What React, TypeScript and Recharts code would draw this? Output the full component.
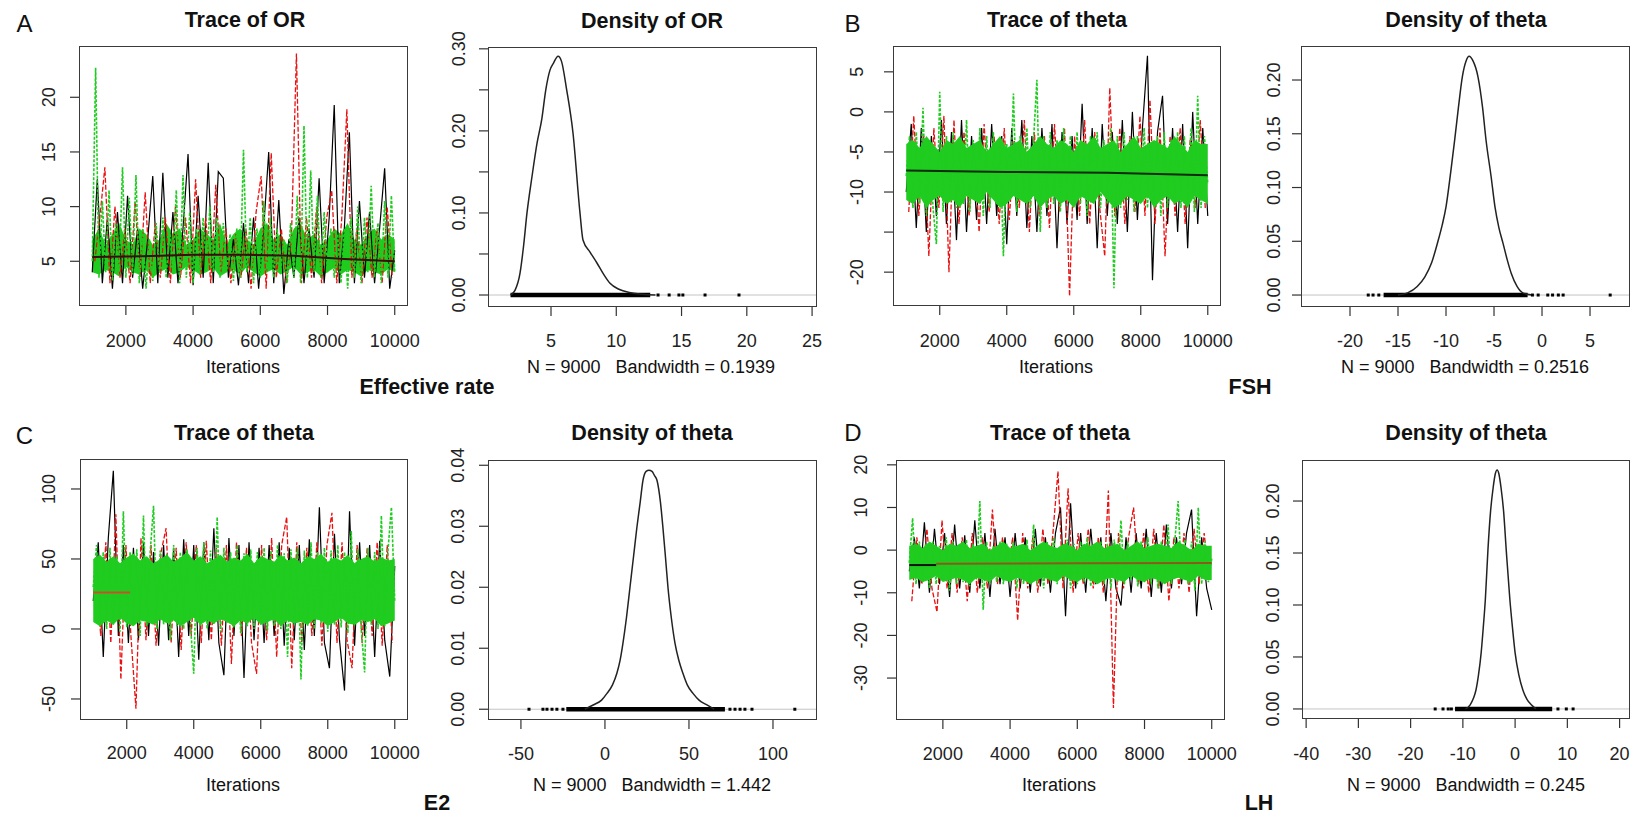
import React from "react";
import { ComposedChart, Line, Area, Scatter, XAxis, YAxis, ReferenceLine } from "recharts";

const FONT = '"Liberation Sans", Arial, Helvetica, sans-serif';
const GREEN = "#1fcc1f";
const RED = "#e81010";

// iteration positions of the thinned chains (x categories)
const itersBlack = Array.from({ length: 61 }, (_, i) => 1000 + 150 * i);
const itersRed = Array.from({ length: 60 }, (_, i) => 1075 + 150 * i);
const itersGreen = Array.from({ length: 91 }, (_, i) => 1000 + 100 * i);
const itersCore = Array.from({ length: 46 }, (_, i) => 1000 + 200 * i);
const iterTicks = [2000, 4000, 6000, 8000, 10000];

// A - OR trace
const orBlack = [4, 12.5, 3, 9, 2.5, 9.5, 3, 11, 3.5, 8, 2.5, 7, 12.8, 3, 13.1, 3.5, 9.5, 3, 8, 14.8, 2.8, 11, 3.5, 14, 3, 13.2, 12.6, 3.5, 7, 2.8, 8.5, 3, 9, 2.5, 8, 15, 3, 10.6, 2, 7, 3.5, 9, 3, 8, 3.5, 12.6, 3, 9, 19.3, 3, 8, 16.8, 3, 10.5, 3.5, 9.5, 3, 8, 13.5, 2.5, 6];
const orRed = [5, 9, 13.6, 3, 10, 3.5, 8, 3, 10.5, 3.5, 11.3, 3, 8.5, 3.5, 9, 3, 10, 3.5, 9, 3, 12.5, 3.5, 9, 3, 12, 4, 8, 3, 7.5, 3.5, 8, 2.5, 9.5, 12.8, 2.5, 14.9, 3.5, 8, 3, 7, 24, 3, 9, 3.5, 10, 3, 9, 11.5, 3, 9, 18.9, 3.5, 8, 3, 9, 3.5, 8, 3, 10, 3.5];
const orGreen = [5, 22.7, 3.5, 10.5, 4, 11.5, 3.2, 8.5, 4, 13.6, 3.5, 10.8, 3.8, 12.9, 3, 8, 2.5, 7, 3.2, 8.5, 4, 9, 3.5, 8, 4, 11.5, 3, 12.9, 3.5, 9.5, 3, 8, 3.8, 9, 4.5, 10, 4, 9, 3.5, 8.5, 4, 7.5, 3.2, 8, 3.5, 15.2, 4, 9, 3, 8, 3.5, 10.5, 4, 9, 3.5, 8, 4, 7, 3, 8.5, 3.5, 11, 3, 17.4, 3.5, 13.3, 4, 11, 3.5, 9.5, 4, 8, 3.5, 7.5, 3, 8, 2.5, 9, 3.5, 10, 3, 9, 4, 11.9, 3.5, 8.5, 3, 10.5, 3.5, 11, 4];
const orCoreLo = [4, 3.8, 4.2, 4, 3.6, 4.5, 4, 3.8, 4.2, 3.5, 4, 4.3, 3.8, 4, 4.5, 4.2, 3.8, 4, 4.4, 3.6, 4, 4.2, 3.8, 4.5, 4, 3.6, 4, 4.3, 3.8, 4.1, 4.5, 3.8, 4, 4.2, 3.6, 4, 4.4, 3.8, 4.2, 4, 3.6, 4.2, 4, 3.8, 4.3, 4];
const orCoreHi = [7, 8, 6.5, 7.5, 8.5, 7, 6.5, 8, 7.5, 6.5, 7, 8.5, 7.5, 8, 6.5, 7, 8, 7.5, 7, 8.5, 6.5, 7.5, 8, 7, 6.5, 8, 8.5, 7, 7.5, 6.5, 8, 8.5, 7, 7.5, 6.5, 7, 8, 7.5, 8.5, 7, 6.5, 7.5, 8, 7, 7.5, 7];
const orMeanIters = [1000, 2500, 4000, 5500, 7000, 8500, 10000];
const orMean = [5.4, 5.45, 5.6, 5.6, 5.5, 5.2, 5.0];

// A - OR density
const orDensX = [1.9, 2.25, 2.63, 2.9, 3.16, 3.55, 3.93, 4.3, 4.6, 4.92, 5.2, 5.54, 5.8, 6.2, 6.68, 7.22, 7.45, 8.0, 8.52, 9.0, 9.5, 10.2, 11, 12, 13];
const orDensY = [0, 0.006, 0.027, 0.06, 0.1, 0.145, 0.185, 0.215, 0.25, 0.274, 0.283, 0.291, 0.285, 0.25, 0.198, 0.1, 0.067, 0.052, 0.039, 0.026, 0.0146, 0.007, 0.003, 0.001, 0];
const orRugBand = [1.9, 12.6];
const orRugDots = [13.2, 14.05, 14.8, 15.1, 16.8, 19.4];

// B - FSH trace
const fshBlack = [-10, -1.5, -14.5, -2, -15, -3, -13, -1, -14, -2.5, -16, -1, -15, -3, -13.5, -2, -14, -1.5, -13, -3, -16.5, -2, -13, -1, -14.5, -3, -15, -2, -13, -1.5, -17, -2.5, -14, -3, -13.5, 1, -14, -2, -17, -1.5, -13, -2.5, -14, -1, -15, 0, -13.5, -2, 7, -21, -2.5, 2, -14, -2, -15, -1.5, -17, 0, -14, -2, -13];
const fshRed = [-12.5, -0.5, -13, -3, -18, -2, -12, -0.5, -20, -1, -14, -2.5, -13, -4, -15, -1.5, -12.5, -3, -14, -2, -13.5, -3.5, -12, -1, -15, -2.5, -13, -3, -14.5, -1.5, -12.5, -2, -23, -3, -13, -1, -14, -2.5, -12, -18, 3, -13, -2, -14, -3, -12.5, -0.5, -13, 1.5, -14, -2, -18, -3, -13, -2, -14, -3.5, -12, -1, -12];
const fshGreen = [-8, -3, -12, -2.5, -11.5, 0.5, -13, -3.5, -12, -16.5, 2.5, -12.5, -3, -11, -2.5, -12, -4, -11.5, -1, -12.5, -3.5, -11, -2, -13, -3, -12, -2.5, -11.5, -3.5, -18, -4, -11, 2.3, -12.5, -3, -11, -2, -12, -3.5, 4, -15, -3, -12, -2.5, -11.5, -3.5, -12.5, -2, -11, -3, -12, -2.5, -11.5, -4, -13, -3, -11, -2.5, -12, -3.5, -11.5, -2, -22, -3, -12, -2.5, -11, -3.5, -12.5, -3, -11, -2, -12, -4, -11.5, -3, -13, -2.5, -12, -3.5, -11, -2.5, -12, -3, -11.5, -2, -12.5, 2, -12, -3, -9];
const fshCoreLo = [-11, -11.5, -10.5, -12, -11, -10.5, -11.5, -11, -12, -10.5, -11, -11.5, -10, -11, -12, -11.5, -10.5, -11, -11.5, -10.5, -12, -11, -10.5, -11.5, -11, -12, -10.5, -11, -11.5, -10, -11, -12, -11.5, -10.5, -11, -11.5, -10.5, -12, -11, -10.5, -11.5, -11, -12, -10.5, -11, -11.5];
const fshCoreHi = [-4, -3.5, -4.5, -3, -4, -5, -3.5, -4, -3, -4.5, -4, -3.5, -5, -4, -3, -4.5, -4, -3.5, -5, -4, -3, -4, -4.5, -3.5, -4, -5, -3.5, -4, -3, -4.5, -4, -3.5, -5, -4, -3, -4.5, -4, -3.5, -4, -4.5, -3, -4, -5, -3.5, -4, -4];
const fshMeanIters = [1000, 4000, 7000, 10000];
const fshMean = [-7.3, -7.5, -7.6, -7.9];

// B - FSH density
const fshDensX = [-15, -14, -13, -12.2, -11.5, -10.9, -10.4, -10, -9.5, -9.1, -8.7, -8.3, -7.9, -7.6, -7.2, -6.67, -6.2, -5.83, -5.3, -4.9, -4.5, -4.06, -3.6, -3.2, -2.6, -2, -1];
const fshDensY = [0, 0.002, 0.008, 0.017, 0.03, 0.048, 0.065, 0.082, 0.115, 0.144, 0.175, 0.203, 0.218, 0.222, 0.218, 0.203, 0.175, 0.144, 0.11, 0.082, 0.063, 0.048, 0.032, 0.02, 0.008, 0.002, 0];
const fshRugBand = [-16.5, -1.5];
const fshRugDots = [-18.1, -17.6, -17, -1.0, -0.4, 0.6, 1.1, 1.7, 2.2, 7.1];

// C - E2 trace
const e2Black = [20, 62, -20, 65, 113, -5, 60, -10, 58, -8, 62, -5, 55, -12, 60, -8, 58, -20, 64, -5, 60, -22, 62, -8, 72, -10, -33, 65, -5, 60, -35, 62, -8, 58, -10, 60, -5, 62, -12, 58, -8, 60, -15, 64, -5, 87, -10, -28, 68, -8, -44, 84, -12, 62, -5, 60, -20, 63, -8, -34, 45];
const e2Red = [40, -5, 62, -10, 82, -36, 60, -5, -57, 65, -8, 60, -12, 55, 72, -10, 58, -15, 62, -5, 60, -10, 63, -8, 58, -12, 60, -25, 62, -5, 58, -10, -32, 60, -8, 65, -20, 60, 80, -28, 62, -10, 58, -5, 62, -12, 60, 83, -10, 62, -8, -28, 60, -10, 58, -5, 62, -12, 60, -10];
const e2Green = [30, 60, 2, 55, 0, 58, 3, 52, -2, 84, 1, 55, 4, 57, -5, 81, 2, 55, 88, 0, 56, 3, 54, -8, 60, 2, 55, 0, 57, 4, -32, 58, 2, 62, 0, 56, 3, 80, -2, 58, 4, 55, 1, 60, -3, 54, 2, 57, 0, 55, 3, 58, -1, 56, 2, 60, 0, 54, -20, 57, 3, 58, -36, 56, 2, 62, 0, 55, 4, 58, -2, 56, 3, 60, 1, 55, -3, 70, 2, 57, 0, -31, 58, 3, 55, 0, 81, 2, 57, 87, 20];
const e2CoreLo = [5, 2, 6, 3, 8, 4, 2, 6, 5, 3, 7, 4, 6, 2, 5, 8, 3, 6, 4, 7, 5, 2, 6, 4, 8, 3, 5, 7, 2, 6, 4, 5, 3, 7, 6, 2, 5, 8, 4, 3, 6, 5, 7, 2, 4, 6];
const e2CoreHi = [50, 53, 48, 52, 47, 51, 54, 49, 52, 47, 50, 53, 48, 51, 55, 49, 52, 47, 50, 53, 48, 51, 49, 54, 47, 52, 50, 48, 53, 49, 51, 47, 52, 50, 54, 48, 51, 49, 53, 47, 50, 52, 48, 51, 49, 50];
const e2MeanIters = [1000, 2100];
const e2Mean = [26, 26];

// C - E2 density
const e2DensX = [-12, -7, -2, 1.2, 4.5, 7.1, 9, 10.7, 12.8, 14.9, 17, 19, 21, 22.6, 24.5, 26.2, 28, 29.5, 31, 33, 34.5, 36, 37.5, 39.5, 41.7, 44, 46.4, 49, 52.4, 56, 60.7, 65];
const e2DensY = [0, 0.0007, 0.0015, 0.0026, 0.004, 0.0059, 0.008, 0.0108, 0.015, 0.02, 0.025, 0.0298, 0.034, 0.0375, 0.039, 0.0392, 0.039, 0.0383, 0.0375, 0.034, 0.0298, 0.025, 0.02, 0.015, 0.0108, 0.008, 0.0059, 0.004, 0.0026, 0.0015, 0.0007, 0];
const e2RugBand = [-23, 71.4];
const e2RugDots = [-45.2, -36.9, -34.5, -31.5, -28.6, -25, 74.4, 77.4, 80.4, 83.3, 87.5, 113];

// D - LH trace
const lhBlack = [-5, 3, -9, 6.5, -10, 5, -8, 4, -11, 6, -9, 3.5, -10, 7, -9, 4, -11, 5, -8, 3, -11, 4, -9, 3, -10, 5, -8.5, 3, -10, 4, 10, -15.5, 11, -9, 4, -10, 5, -8, 3, -12, 4, -9, -13, 3, -10, 4, -9, 5, -11, 4, -10, 6, -9, 3, -8, 4, 9.5, -15.5, 3, -9, -14];
const lhRed = [-12, 3, -8, 5, -9, -14.5, 7, -9, 4, -10, 3, -12, 4, -10, 3, -9, 9.5, -8, 3, -7, 3, -16.5, 4, -9, 3, -10, 5, -8, 4, 18.5, -9, 14.5, -10, 4, -8, 5, -9, 3, -10, 14, -37, 4, -9, 3, 10, -8, 4, -10, 5, -9, 6, -12, 3, -9, 4, -10, 5, -8, 4, -7];
const lhGreen = [-3, 7.5, -8, 2, -7.5, 1.5, -9, 2, -8, 1, -7, 3, -9.5, 2, -8, 1, -7.5, 2.5, -8.5, 1.5, -7, 11.5, -14, 2, -8, 1, -7.5, 2, -8, 1.5, -7, 2, -9, 1, -8, 2.5, -7.5, 6, -8, 1.5, -9, 2, -7.5, 3, -8, 1, -7, 2.5, -9, 1.5, -8, 2, -7.5, 3, -8.5, 1, -7, 2, -8, 1.5, -9, 2.5, -7.5, 7, -8, 2, -7, 1.5, -8.5, 2, -7.5, 3, -8, 1.5, -9, 2, -7.5, 6, -8, 2, 11.5, -7, 2.5, -8, 2, -9.5, 10, -8, 2, -7.5, -2];
const lhCoreLo = [-7, -6.5, -7.5, -7, -6, -7.5, -7, -6.5, -7, -8, -6.5, -7, -7.5, -6, -7, -7.5, -6.5, -7, -8, -7, -6.5, -7, -7.5, -6, -7, -7.5, -6.5, -7, -8, -7, -6.5, -7, -7.5, -6, -7, -7.5, -6.5, -7, -8, -7, -6.5, -7, -7.5, -6, -7, -7];
const lhCoreHi = [1, 1.5, 0.5, 2, 1, 0, 1.5, 1, 2, 0.5, 1, 1.5, 0, 1, 2, 0.5, 1, 1.5, 0, 1, 2, 1, 0.5, 1.5, 1, 0, 1.5, 1, 2, 0.5, 1, 1.5, 0, 1, 2, 0.5, 1, 1.5, 1, 0.5, 2, 1, 0, 1.5, 1, 1];
const lhMeanBlackIters = [1000, 1800];
const lhMeanBlack = [-3.5, -3.5];
const lhMeanIters = [1800, 6000, 10000];
const lhMean = [-3.2, -3.1, -3.0];

// D - LH density
const lhDensX = [-9.5, -8.6, -8, -7.5, -7, -6.5, -6.1, -5.7, -5.2, -4.7, -4.2, -3.8, -3.44, -3.1, -2.7, -2.2, -1.7, -1.0, -0.5, 0, 0.7, 1.5, 2.3, 3.1, 4];
const lhDensY = [0, 0.004, 0.01, 0.018, 0.033, 0.054, 0.078, 0.105, 0.153, 0.19, 0.213, 0.226, 0.2298, 0.226, 0.213, 0.19, 0.153, 0.105, 0.078, 0.054, 0.033, 0.018, 0.009, 0.004, 0];
const lhRugBand = [-11.5, 7.1];
const lhRugDots = [-15.3, -13.8, -12.8, -12.2, 8.2, 9.8, 11.1];

const toPts = (xs: number[], ys: number[]) => ys.map((y, i) => ({ x: xs[i], y }));
const toRange = (xs: number[], lo: number[], hi: number[]) => lo.map((l, i) => ({ x: xs[i], r: [l, hi[i]] }));

const XTick = ({ x, y, payload }: any) => (
  <text x={x} y={y + 6.5} textAnchor="middle" fontSize={18} fontFamily={FONT} fill="#222">
    {String(payload.value)}
  </text>
);

const YTick = ({ x, y, payload, fmt }: any) => {
  const label = fmt(payload.value);
  if (!label) return <g />;
  return (
    <text x={x} y={y} transform={`rotate(-90 ${x} ${y})`} textAnchor="middle" fontSize={18} fontFamily={FONT} fill="#222">
      {label}
    </text>
  );
};

const PAD_L = 70;
const PAD_T = 30;
const PAD_R = 40;
const PAD_B = 50;

// each layer is its own chart with identical geometry, stacked so that
// later layers paint over earlier ones (chain order: black, red, green)
function Panel({ box, xDomain, yDomain, xTicks, yTicks, yFmt, yGap, xGap, layers }: any) {
  const [x0, y0, x1, y1] = box;
  const w = x1 - x0;
  const h = y1 - y0;
  return (
    <div style={{ position: "absolute", left: x0 - PAD_L, top: y0 - PAD_T, width: w + PAD_L + PAD_R, height: h + PAD_T + PAD_B }}>
      {layers.map((items: React.ReactNode[], li: number) => (
        <div key={li} style={{ position: "absolute", left: 0, top: 0 }}>
          <ComposedChart width={w + PAD_L + PAD_R} height={h + PAD_T + PAD_B} margin={{ top: PAD_T, right: PAD_R, bottom: 0, left: 0 }}>
            <XAxis
              type="number"
              dataKey="x"
              domain={xDomain}
              ticks={xTicks}
              interval={0}
              allowDataOverflow
              height={PAD_B}
              axisLine={false}
              tickSize={10}
              tickMargin={xGap - 10}
              tickLine={li === 0 ? { stroke: "#333", strokeWidth: 1.2 } : false}
              tick={li === 0 ? (p: any) => <XTick {...p} /> : false}
            />
            <YAxis
              type="number"
              domain={yDomain}
              ticks={yTicks}
              interval={0}
              allowDataOverflow
              width={PAD_L}
              axisLine={false}
              tickSize={10}
              tickMargin={yGap - 10}
              tickLine={li === 0 ? { stroke: "#333", strokeWidth: 1.2 } : false}
              tick={li === 0 ? (p: any) => <YTick {...p} fmt={yFmt} /> : false}
            />
            {items}
          </ComposedChart>
        </div>
      ))}
      <div
        style={{
          position: "absolute",
          left: PAD_L - 1,
          top: PAD_T - 1,
          width: w + 2,
          height: h + 2,
          border: "1.5px solid #3a3a3a",
          boxSizing: "border-box",
          pointerEvents: "none",
        }}
      />
    </div>
  );
}

// coreUnder: paint the green core beneath the black/red chains (mixed look of panel A)
function traceLayers(black: number[], red: number[], green: number[], coreLo: number[], coreHi: number[], means: React.ReactNode[], coreUnder = false) {
  const core = (
    <Area key="gc" data={toRange(itersCore, coreLo, coreHi)} dataKey="r" stroke="none" fill={GREEN} fillOpacity={1} dot={false} activeDot={false} isAnimationActive={false} />
  );
  const blackLine = <Line key="k" data={toPts(itersBlack, black)} dataKey="y" stroke="#000" strokeWidth={1.2} dot={false} activeDot={false} isAnimationActive={false} />;
  const redLine = <Line key="r" data={toPts(itersRed, red)} dataKey="y" stroke={RED} strokeWidth={1.3} strokeDasharray="5 2" dot={false} activeDot={false} isAnimationActive={false} />;
  const greenLine = <Line key="g" data={toPts(itersGreen, green)} dataKey="y" stroke={GREEN} strokeWidth={1.6} strokeDasharray="3 1.5" dot={false} activeDot={false} isAnimationActive={false} />;
  return coreUnder
    ? [[core], [blackLine, redLine], [greenLine, ...means]]
    : [[blackLine, redLine], [core], [greenLine, ...means]];
}

function meanLine(key: string, iters: number[], vals: number[], color: string) {
  return <Line key={key} data={toPts(iters, vals)} dataKey="y" stroke={color} strokeWidth={2} dot={false} activeDot={false} isAnimationActive={false} />;
}

const rugDot = (p: any) => <rect x={p.cx - 1.5} y={p.cy - 1.5} width={3} height={3} fill="#000" />;

function densityLayers(xs: number[], ys: number[], band: number[], dots: number[]) {
  return [
    [
      <ReferenceLine key="z" y={0} stroke="#c4c4c4" strokeWidth={1} />,
      <Line key="rb" data={band.map((x) => ({ x, y: 0 }))} dataKey="y" stroke="#000" strokeWidth={4.5} dot={false} activeDot={false} isAnimationActive={false} />,
      <Scatter key="rd" data={dots.map((x) => ({ x, y: 0 }))} dataKey="y" shape={rugDot} isAnimationActive={false} />,
      <Line key="d" data={toPts(xs, ys)} dataKey="y" type="monotone" stroke="#222" strokeWidth={1.5} dot={false} activeDot={false} isAnimationActive={false} />,
    ],
  ];
}

function Label({ cx, cy, size, bold, children }: any) {
  return (
    <div
      style={{
        position: "absolute",
        left: cx,
        top: cy - 0.49 * size,
        transform: "translateX(-50%)",
        fontSize: size,
        lineHeight: `${size}px`,
        fontWeight: bold ? 700 : 400,
        whiteSpace: "pre",
        fontFamily: FONT,
        color: "#111",
      }}
    >
      {children}
    </div>
  );
}

const intFmt = (v: number) => String(v);
const fix2 = (v: number) => v.toFixed(2);

export default function App() {
  return (
    <div style={{ position: "relative", width: 1638, height: 817, background: "#fff", overflow: "hidden" }}>
      <style>{"body{margin:0}"}</style>

      {/* A */}
      <Panel box={[80, 47, 407, 305]} xDomain={[635, 10365]} yDomain={[1, 24.6]} xTicks={iterTicks} yTicks={[5, 10, 15, 20]} yFmt={intFmt} yGap={25} xGap={35}
        layers={traceLayers(orBlack, orRed, orGreen, orCoreLo, orCoreHi, [meanLine("m", orMeanIters, orMean, "#3b0d0d")], true)} />
      <Panel box={[489, 48, 816, 306]} xDomain={[0.25, 25.3]} yDomain={[-0.0134, 0.301]} xTicks={[5, 10, 15, 20, 25]} yTicks={[0, 0.05, 0.1, 0.15, 0.2, 0.25, 0.3]}
        yFmt={(v: number) => (Math.round(v * 100) % 10 === 0 ? v.toFixed(2) : "")} yGap={24} xGap={34}
        layers={densityLayers(orDensX, orDensY, orRugBand, orRugDots)} />

      {/* B */}
      <Panel box={[894, 47, 1220, 305]} xDomain={[635, 10365]} yDomain={[-24.1, 8.1]} xTicks={iterTicks} yTicks={[-20, -15, -10, -5, 0, 5]}
        yFmt={(v: number) => (v === -15 ? "" : String(v))} yGap={31} xGap={35}
        layers={traceLayers(fshBlack, fshRed, fshGreen, fshCoreLo, fshCoreHi, [meanLine("m", fshMeanIters, fshMean, "#0d2a0d")])} />
      <Panel box={[1302, 47, 1629, 306]} xDomain={[-25, 9.06]} yDomain={[-0.0102, 0.2307]} xTicks={[-20, -15, -10, -5, 0, 5]} yTicks={[0, 0.05, 0.1, 0.15, 0.2]} yFmt={fix2} yGap={22} xGap={34}
        layers={densityLayers(fshDensX, fshDensY, fshRugBand, fshRugDots)} />

      {/* C */}
      <Panel box={[81, 460, 407, 719]} xDomain={[635, 10365]} yDomain={[-64.3, 120.7]} xTicks={iterTicks} yTicks={[-50, 0, 50, 100]} yFmt={intFmt} yGap={26} xGap={33}
        layers={traceLayers(e2Black, e2Red, e2Green, e2CoreLo, e2CoreHi, [meanLine("m", e2MeanIters, e2Mean, "#c8502a")])} />
      <Panel box={[489, 461, 816, 719]} xDomain={[-69, 125.6]} yDomain={[-0.0016, 0.0407]} xTicks={[-50, 0, 50, 100]} yTicks={[0, 0.01, 0.02, 0.03, 0.04]} yFmt={fix2} yGap={25} xGap={34}
        layers={densityLayers(e2DensX, e2DensY, e2RugBand, e2RugDots)} />

      {/* D */}
      <Panel box={[897, 461, 1224, 719]} xDomain={[635, 10365]} yDomain={[-39.6, 20.9]} xTicks={iterTicks} yTicks={[-30, -20, -10, 0, 10, 20]} yFmt={intFmt} yGap={30} xGap={34}
        layers={traceLayers(lhBlack, lhRed, lhGreen, lhCoreLo, lhCoreHi, [
          meanLine("mb", lhMeanBlackIters, lhMeanBlack, "#111"),
          meanLine("m", lhMeanIters, lhMean, "#8a5a1a"),
        ])} />
      <Panel box={[1303, 461, 1629, 718]} xDomain={[-40.6, 21.8]} yDomain={[-0.0087, 0.2385]} xTicks={[-40, -30, -20, -10, 0, 10, 20]} yTicks={[0, 0.05, 0.1, 0.15, 0.2]} yFmt={fix2} yGap={24} xGap={35}
        layers={densityLayers(lhDensX, lhDensY, lhRugBand, lhRugDots)} />

      {/* titles */}
      <Label cx={245} cy={21} size={21.5} bold>Trace of OR</Label>
      <Label cx={652} cy={22} size={21.5} bold>Density of OR</Label>
      <Label cx={1057} cy={21} size={21.5} bold>Trace of theta</Label>
      <Label cx={1466} cy={21} size={21.5} bold>Density of theta</Label>
      <Label cx={244} cy={434} size={21.5} bold>Trace of theta</Label>
      <Label cx={652} cy={434} size={21.5} bold>Density of theta</Label>
      <Label cx={1060} cy={434} size={21.5} bold>Trace of theta</Label>
      <Label cx={1466} cy={434} size={21.5} bold>Density of theta</Label>

      {/* axis captions */}
      <Label cx={243} cy={367} size={18}>Iterations</Label>
      <Label cx={1056} cy={367} size={18}>Iterations</Label>
      <Label cx={243} cy={785} size={18}>Iterations</Label>
      <Label cx={1059} cy={785} size={18}>Iterations</Label>
      <Label cx={651} cy={367} size={18}>{"N = 9000   Bandwidth = 0.1939"}</Label>
      <Label cx={1465} cy={367} size={18}>{"N = 9000   Bandwidth = 0.2516"}</Label>
      <Label cx={652} cy={785} size={18}>{"N = 9000   Bandwidth = 1.442"}</Label>
      <Label cx={1466} cy={785} size={18}>{"N = 9000   Bandwidth = 0.245"}</Label>

      {/* variable names */}
      <Label cx={427} cy={388} size={21.5} bold>Effective rate</Label>
      <Label cx={1250} cy={388} size={21.5} bold>FSH</Label>
      <Label cx={437} cy={804} size={21.5} bold>E2</Label>
      <Label cx={1259} cy={804} size={21.5} bold>LH</Label>

      {/* panel letters */}
      <Label cx={24.5} cy={23.5} size={24}>A</Label>
      <Label cx={852.5} cy={24} size={24}>B</Label>
      <Label cx={24.5} cy={436} size={24}>C</Label>
      <Label cx={853} cy={433} size={24}>D</Label>
    </div>
  );
}
